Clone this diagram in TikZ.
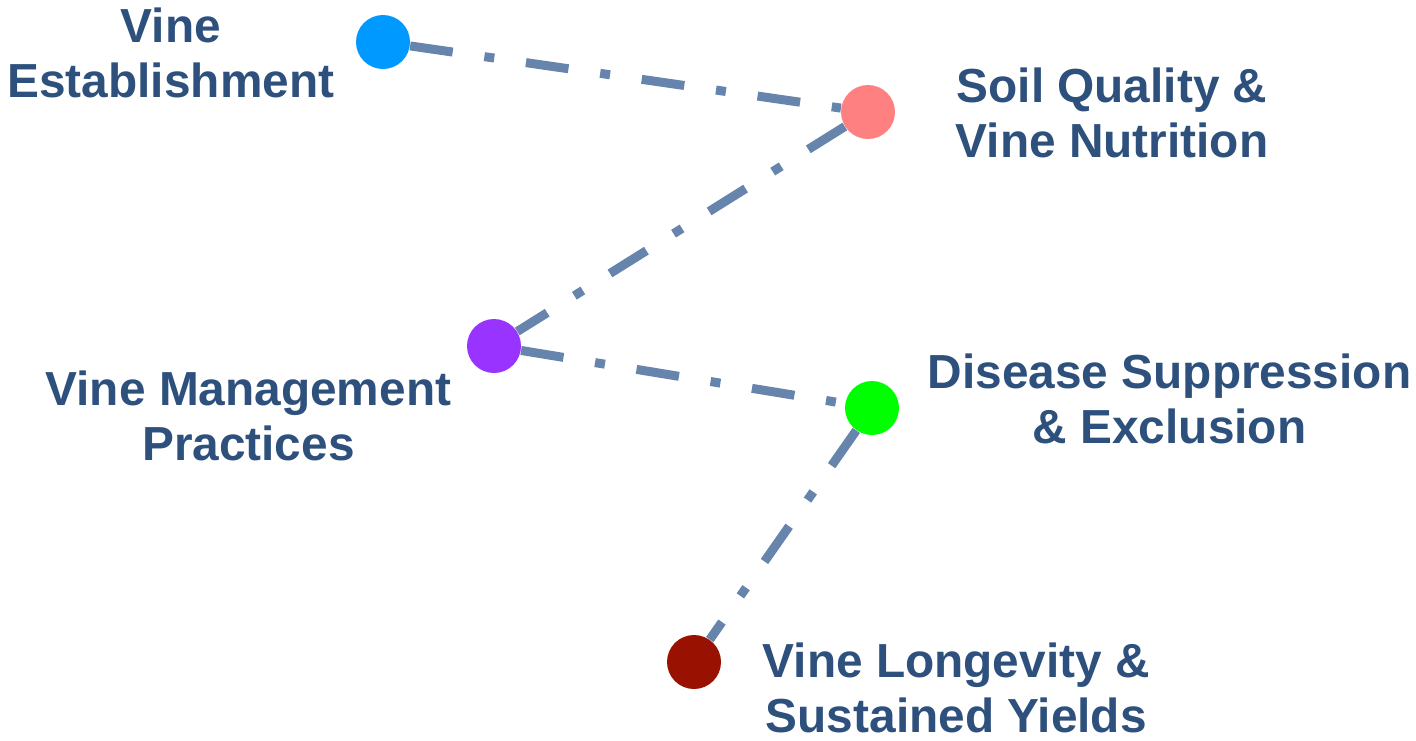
\documentclass[tikz,border=0pt]{standalone}
\usepackage{fontspec}
\setmainfont{Liberation Sans}
\usetikzlibrary{positioning}
\definecolor{labelblue}{RGB}{46,80,125}
\definecolor{linkgray}{RGB}{103,133,172}
\definecolor{estblue}{RGB}{0,153,255}
\definecolor{soilred}{RGB}{255,128,128}
\definecolor{mgmtpurple}{RGB}{153,51,255}
\definecolor{disgreen}{RGB}{0,255,0}
\definecolor{longred}{RGB}{153,17,0}
\tikzset{
    Link/.style = {
        linkgray,
        line width = 4.5pt,
        dash pattern = on 21.5pt off 16pt on 5pt off 16pt
    }
}

\begin{document}
\begin{tikzpicture}[
x = 0.5pt, y = -0.5pt,
dot/.style = {
    circle,
    minimum size = 27pt,
    inner sep = 0pt
    },
label/.style = {
    align = center,
    inner sep = 0pt,
    text = labelblue,
    font = \fontsize{23.9}{27.5}\selectfont\bfseries
    }
]
\useasboundingbox (0,0) rectangle (1416,740);

\node [dot, fill = estblue] (est) at (383,42) {};
\node [dot, fill = soilred] (soil) at (868,112) {};
\node [dot, fill = mgmtpurple] (mgmt) at (494,346) {};
\node [dot, fill = disgreen] (dis) at (872,408) {};
\node [dot, fill = longred] (long) at (694,662) {};

\node [label, left = 10.5pt of est, yshift = -5.25pt] (estL) {Vine\\Establishment};
\node [label, right = 30pt of soil, yshift = -0.5pt] (soilL) {Soil Quality \&\\Vine Nutrition};
\node [label, left = 7.5pt of mgmt, yshift = -34.75pt] (mgmtL) {Vine Management\\Practices};
\node [label, right = 14pt of dis, yshift = 4.75pt] (disL) {Disease Suppression\\\& Exclusion};
\node [label, right = 20.5pt of long, yshift = -13pt] (longL) {Vine Longevity \&\\Sustained Yields};

\draw [Link] (est) -- (soil);
\draw [Link] (soil) -- (mgmt);
\draw [Link] (mgmt) -- (dis);
\draw [Link] (dis) -- (long);

\end{tikzpicture}
\end{document}
